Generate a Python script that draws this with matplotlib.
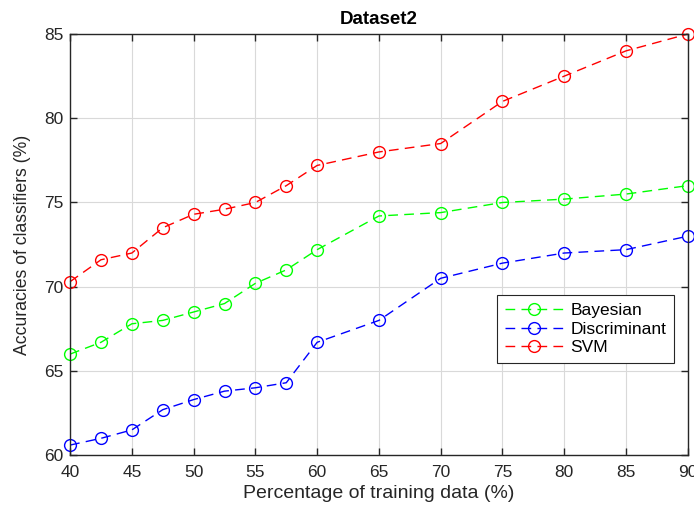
import matplotlib
matplotlib.use("Agg")
import matplotlib.pyplot as plt

# data
train_pct = [40, 42.5, 45, 47.5, 50, 52.5, 55, 57.5, 60, 65, 70, 75, 80, 85, 90]
bayesian = [66.0, 66.7, 67.8, 68.0, 68.5, 69.0, 70.2, 71.0, 72.2, 74.2, 74.4, 75.0, 75.2, 75.5, 76.0]
discriminant = [60.6, 61.0, 61.5, 62.7, 63.3, 63.8, 64.0, 64.3, 66.7, 68.0, 70.5, 71.4, 72.0, 72.2, 73.0]
svm = [70.3, 71.6, 72.0, 73.5, 74.3, 74.6, 75.0, 76.0, 77.2, 78.0, 78.5, 81.0, 82.5, 84.0, 85.0]
x_ticks = [40, 45, 50, 55, 60, 65, 70, 75, 80, 85, 90]
y_ticks = [60, 65, 70, 75, 80, 85]

plt.rcParams["font.family"] = ["Liberation Sans", "DejaVu Sans"]

fig = plt.figure(figsize=(6.94, 5.08), dpi=100)
ax = fig.add_axes([0.101, 0.104, 0.890, 0.829])

style = dict(linestyle=(0, (7, 4.5)), linewidth=1.0, marker="o", markersize=8.5,
             markerfacecolor="none", markeredgewidth=1.0, clip_on=False)
ax.plot(train_pct, bayesian, color="#00ff00", label="Bayesian", **style)
ax.plot(train_pct, discriminant, color="#0000ff", label="Discriminant", **style)
ax.plot(train_pct, svm, color="#ff0000", label="SVM", **style)

ax.set_xlim(40, 90)
ax.set_ylim(60, 85)
ax.set_xticks(x_ticks)
ax.set_yticks(y_ticks)
ax.tick_params(direction="in", top=True, right=True, length=5, width=1,
               labelsize=12.5, colors="#262626")
ax.tick_params(axis="x", pad=7)
ax.tick_params(axis="y", pad=5)
ax.grid(True, color="#d9d9d9", linewidth=0.8)
ax.set_axisbelow(True)
for sp in ax.spines.values():
    sp.set_color("#262626")
    sp.set_linewidth(1.0)

ax.set_xlabel("Percentage of training data (%)", fontsize=14, color="#262626", labelpad=4)
ax.set_ylabel("Accuracies of classifiers (%)", fontsize=12.7, color="#262626", labelpad=9)
ax.set_title("Dataset2", fontsize=13.5, fontweight="bold", pad=7)

leg = ax.legend(loc="upper left", bbox_to_anchor=(0.691, 0.38), borderaxespad=0,
                fontsize=12.5, fancybox=False, framealpha=1, edgecolor="#262626",
                handlelength=3.4, borderpad=0.45, labelspacing=0.2,
                handletextpad=0.4)
leg.get_frame().set_linewidth(0.8)

fig.savefig("out.png", dpi=100)
